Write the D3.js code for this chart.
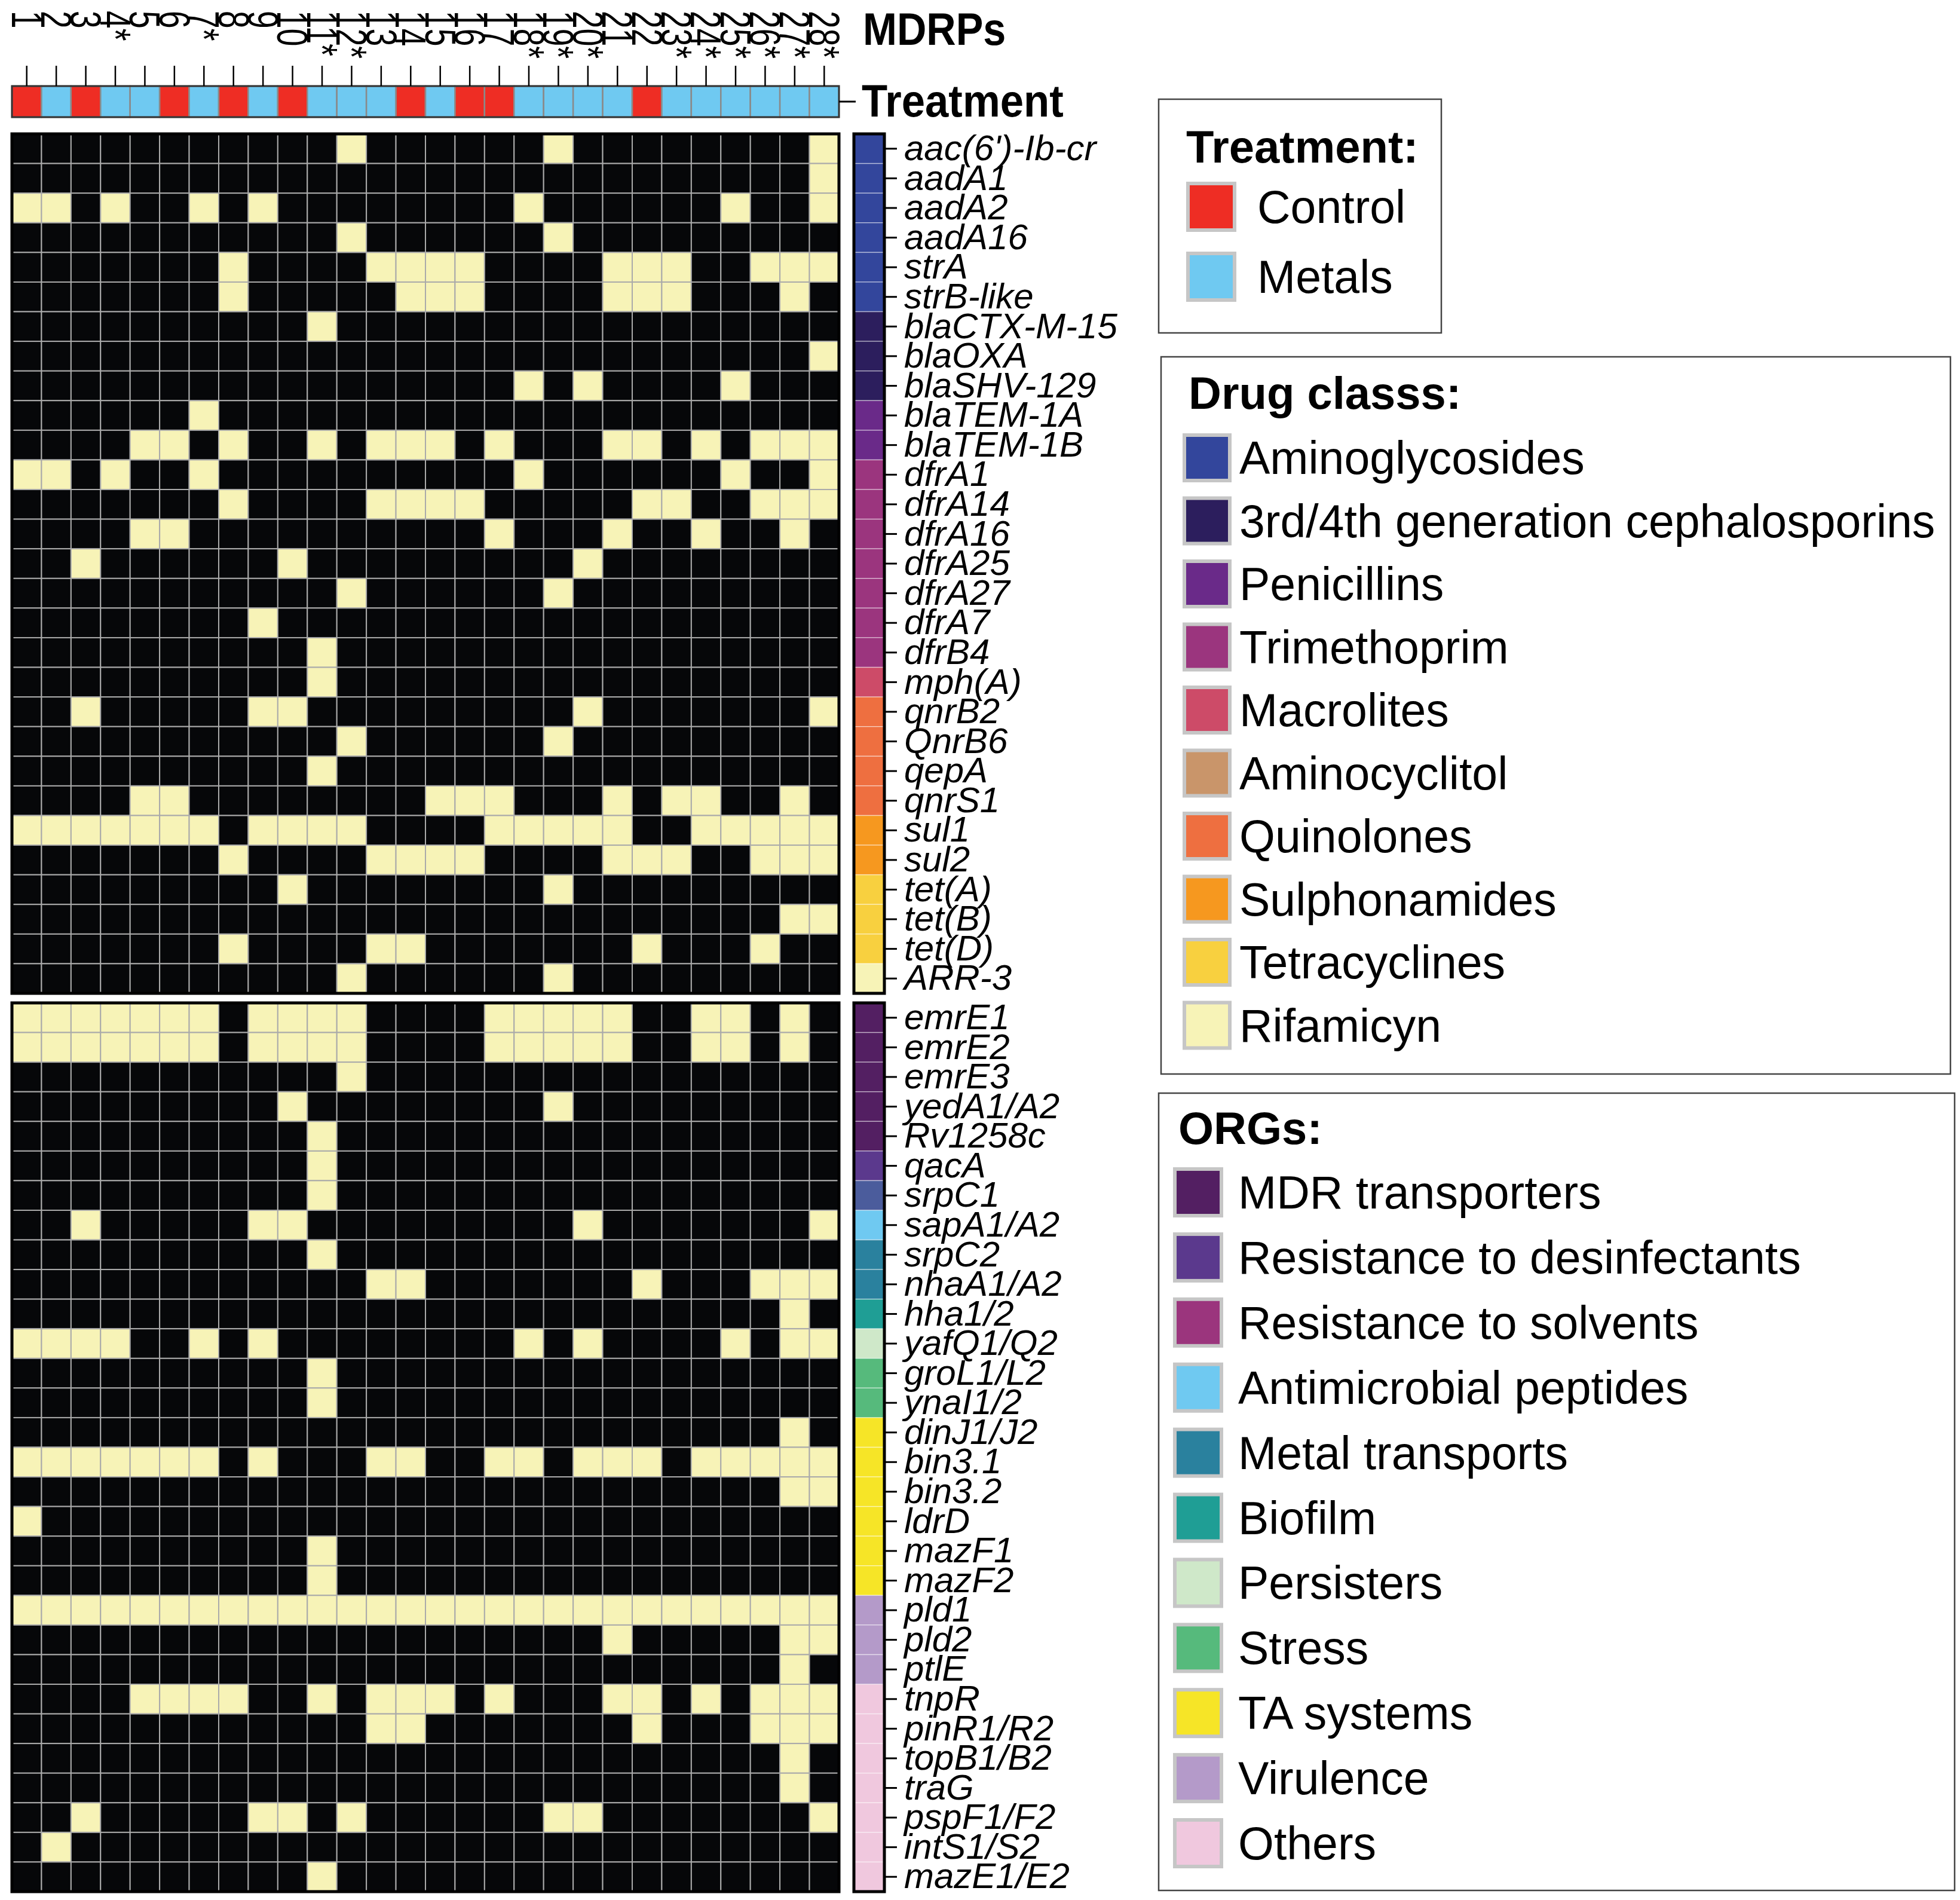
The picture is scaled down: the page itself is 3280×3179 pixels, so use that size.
<!DOCTYPE html>
<html>
<head>
<meta charset="utf-8">
<script src="https://cdn.jsdelivr.net/npm/d3@7"></script>
<style>
body{margin:0;background:#fff}
svg{display:block}
text{font-family:"Liberation Sans",Arial,sans-serif}
</style>
</head>
<body>
<div id="chart"></div>
<script>
// isolates (columns)
const mdrps = [1,2,3,4,5,6,7,8,9,10,11,12,13,14,15,16,17,18,19,20,21,22,23,24,25,26,27,28];
const treatment = ["Control","Metals","Control","Metals","Metals","Control","Metals","Control","Metals","Control",
  "Metals","Metals","Metals","Control","Metals","Control","Control","Metals","Metals","Metals",
  "Metals","Control","Metals","Metals","Metals","Metals","Metals","Metals"];
const marked = [4,7,11,12,18,19,20,23,24,25,26,27,28];

// antibiotic resistance genes
const argGenes = ["aac(6')-Ib-cr","aadA1","aadA2","aadA16","strA","strB-like","blaCTX-M-15","blaOXA","blaSHV-129",
  "blaTEM-1A","blaTEM-1B","dfrA1","dfrA14","dfrA16","dfrA25","dfrA27","dfrA7","dfrB4","mph(A)","qnrB2","QnrB6",
  "qepA","qnrS1","sul1","sul2","tet(A)","tet(B)","tet(D)","ARR-3"];
const argClass = ["Aminoglycosides","Aminoglycosides","Aminoglycosides","Aminoglycosides","Aminoglycosides","Aminoglycosides",
  "3rd/4th generation cephalosporins","3rd/4th generation cephalosporins","3rd/4th generation cephalosporins",
  "Penicillins","Penicillins","Trimethoprim","Trimethoprim","Trimethoprim","Trimethoprim","Trimethoprim","Trimethoprim","Trimethoprim",
  "Macrolites","Quinolones","Quinolones","Quinolones","Quinolones","Sulphonamides","Sulphonamides",
  "Tetracyclines","Tetracyclines","Tetracyclines","Rifamicyn"];
// MDRPs carrying each gene
const argHits = [
  [12,19,28],
  [28],
  [1,2,4,7,9,18,25,28],
  [12,19],
  [8,13,14,15,16,21,22,23,26,27,28],
  [8,14,15,16,21,22,23,27],
  [11],
  [28],
  [18,20,25],
  [7],
  [5,6,8,11,13,14,15,17,21,22,24,26,27,28],
  [1,2,4,7,18,25,28],
  [8,13,14,15,16,22,23,26,27,28],
  [5,6,17,21,24,27],
  [3,10,20],
  [12,19],
  [9],
  [11],
  [11],
  [3,9,10,20,28],
  [12,19],
  [11],
  [5,6,15,16,17,21,23,24,27],
  [1,2,3,4,5,6,7,9,10,11,12,17,18,19,20,21,24,25,26,27,28],
  [8,13,14,15,16,21,22,23,26,27,28],
  [10,19],
  [27,28],
  [8,13,14,22,26],
  [12,19]
];

// other resistance genes
const orgGenes = ["emrE1","emrE2","emrE3","yedA1/A2","Rv1258c","qacA","srpC1","sapA1/A2","srpC2","nhaA1/A2","hha1/2",
  "yafQ1/Q2","groL1/L2","ynaI1/2","dinJ1/J2","bin3.1","bin3.2","ldrD","mazF1","mazF2","pld1","pld2","ptlE",
  "tnpR","pinR1/R2","topB1/B2","traG","pspF1/F2","intS1/S2","mazE1/E2"];
const orgClass = ["MDR transporters","MDR transporters","MDR transporters","MDR transporters","MDR transporters",
  "Resistance to desinfectants","srpC1","Antimicrobial peptides","Metal transports","Metal transports","Biofilm",
  "Persisters","Stress","Stress","TA systems","TA systems","TA systems","TA systems","TA systems","TA systems",
  "Virulence","Virulence","Virulence","Others","Others","Others","Others","Others","Others","Others"];
const orgHits = [
  [1,2,3,4,5,6,7,9,10,11,12,17,18,19,20,21,24,25,27],
  [1,2,3,4,5,6,7,9,10,11,12,17,18,19,20,21,24,25,27],
  [12],
  [10,19],
  [11],
  [11],
  [11],
  [3,9,10,20,28],
  [11],
  [13,14,22,26,27,28],
  [27],
  [1,2,3,4,7,9,18,20,25,27,28],
  [11],
  [11],
  [27],
  [1,2,3,4,5,6,7,9,13,14,17,18,20,21,22,24,25,26,27,28],
  [27,28],
  [1],
  [11],
  [11],
  [1,2,3,4,5,6,7,8,9,10,11,12,13,14,15,16,17,18,19,20,21,22,23,24,25,26,27,28],
  [21,27,28],
  [27],
  [5,6,7,8,11,13,14,15,17,21,22,24,26,27,28],
  [13,14,22,26,27,28],
  [27],
  [27],
  [3,9,10,12,19,20,28],
  [2],
  [11]
];

// legends
const treatmentLevels = ["Control","Metals"];
const drugClasses = ["Aminoglycosides","3rd/4th generation cephalosporins","Penicillins","Trimethoprim","Macrolites",
  "Aminocyclitol","Quinolones","Sulphonamides","Tetracyclines","Rifamicyn"];
const orgClasses = ["MDR transporters","Resistance to desinfectants","Resistance to solvents","Antimicrobial peptides",
  "Metal transports","Biofilm","Persisters","Stress","TA systems","Virulence","Others"];

const width = 3280, height = 3179;
const absent = "#060709", present = "#f7f3b7";

const treatColor = d3.scaleOrdinal().domain(treatmentLevels).range(["#ee2d24","#6fc9f1"]);
const drugColor = d3.scaleOrdinal().domain(drugClasses)
  .range(["#33469c","#2c1e5d","#6a2a89","#9b357e","#cd4b68","#c9956a","#ee6f40","#f6981f","#f8d03f","#f7f3b7"]);
const orgColor = d3.scaleOrdinal().domain(orgClasses.concat(["srpC1"]))
  .range(["#531f62","#5b398d","#9b357d","#6fc9f1","#2a819e","#1f9e95","#cfe8c9","#56ba7c","#f6e527","#b49ac9","#f0c8de","#4b5c9c"]);

const svg = d3.select("#chart").append("svg")
  .attr("width", width)
  .attr("height", height);

const x = d3.scaleBand().domain(mdrps).range([20, 1404]);
const yArg = d3.scaleBand().domain(argGenes).range([224, 1662]);
const yOrg = d3.scaleBand().domain(orgGenes).range([1678, 3165]);

function drawPanel(genes, hits, classes, color, y){
  const cells = [];
  genes.forEach((g, i) => {
    mdrps.forEach(m => cells.push({gene: g, mdrp: m, on: hits[i].includes(m)}));
  });
  const g = svg.append("g");
  g.selectAll("rect")
    .data(cells)
    .enter()
    .append("rect")
    .attr("x", d => x(d.mdrp))
    .attr("y", d => y(d.gene))
    .attr("width", x.bandwidth())
    .attr("height", y.bandwidth())
    .attr("fill", d => d.on ? present : absent)
    .attr("stroke", "#aaaaaa")
    .attr("stroke-width", 2);
  g.append("rect")
    .attr("x", x.range()[0]).attr("y", y.range()[0])
    .attr("width", x.range()[1] - x.range()[0])
    .attr("height", y.range()[1] - y.range()[0])
    .attr("fill", "none").attr("stroke", "#000").attr("stroke-width", 5);

  // class colour bar
  const bar = svg.append("g");
  bar.selectAll("rect")
    .data(genes)
    .enter()
    .append("rect")
    .attr("x", 1429)
    .attr("y", d => y(d))
    .attr("width", 51)
    .attr("height", y.bandwidth())
    .attr("fill", (d, i) => color(classes[i]))
    .attr("stroke", "rgba(255,255,255,0.45)")
    .attr("stroke-width", 1.5);
  bar.append("rect")
    .attr("x", 1429).attr("y", y.range()[0])
    .attr("width", 51).attr("height", y.range()[1] - y.range()[0])
    .attr("fill", "none").attr("stroke", "#000").attr("stroke-width", 5);

  const axis = svg.append("g")
    .attr("transform", "translate(1481,0)")
    .call(d3.axisRight(y).tickSize(20).tickPadding(12));
  axis.select(".domain").remove();
  axis.selectAll(".tick line").attr("stroke", "#000").attr("stroke-width", 3);
  axis.selectAll(".tick text")
    .attr("font-family", "'Liberation Sans',Arial,sans-serif")
    .attr("font-size", 60)
    .attr("font-style", "italic")
    .attr("fill", "#000");
}

drawPanel(argGenes, argHits, argClass, drugColor, yArg);
drawPanel(orgGenes, orgHits, orgClass, orgColor, yOrg);

// treatment annotation row
svg.append("g").selectAll("rect")
  .data(mdrps)
  .enter()
  .append("rect")
  .attr("x", d => x(d))
  .attr("y", 144)
  .attr("width", x.bandwidth())
  .attr("height", 52)
  .attr("fill", (d, i) => treatColor(treatment[i]))
  .attr("stroke", "#8a8a8a")
  .attr("stroke-width", 2.5);
svg.append("rect")
  .attr("x", 20).attr("y", 144).attr("width", 1384).attr("height", 52)
  .attr("fill", "none").attr("stroke", "#333").attr("stroke-width", 3);

// column labels
const colAxis = svg.append("g")
  .attr("transform", "translate(0,144)")
  .call(d3.axisTop(x).tickSize(34).tickFormat(d => d + (marked.includes(d) ? "*" : "")));
colAxis.select(".domain").remove();
colAxis.selectAll(".tick line").attr("stroke", "#000").attr("stroke-width", 2.5);
colAxis.selectAll(".tick text")
  .attr("x", 0).attr("y", 0).attr("dy", "0.35em")
  .attr("text-anchor", "start")
  .attr("transform", "translate(0,-126) rotate(90) scale(0.74,1)")
  .attr("font-family", "'Liberation Sans',Arial,sans-serif")
  .attr("font-size", 72)
  .attr("fill", "#000");

svg.append("line")
  .attr("x1", 1404).attr("x2", 1432).attr("y1", 170).attr("y2", 170)
  .attr("stroke", "#000").attr("stroke-width", 3);
svg.append("text")
  .attr("transform", "translate(1442,195) scale(0.93,1)")
  .attr("font-size", 76).attr("font-weight", "bold")
  .text("Treatment");
svg.append("text")
  .attr("transform", "translate(1444,75) scale(0.9,1)")
  .attr("font-size", 76).attr("font-weight", "bold")
  .text("MDRPs");

// legends
function drawLegend(box, title, items, color, firstY, step, swX, swSize, labelX){
  const g = svg.append("g");
  g.append("rect")
    .attr("x", box[0]).attr("y", box[1]).attr("width", box[2]).attr("height", box[3])
    .attr("fill", "none").attr("stroke", "#444").attr("stroke-width", 2.5);
  g.append("text")
    .attr("x", title[1]).attr("y", title[2])
    .attr("font-size", 76).attr("font-weight", "bold")
    .text(title[0]);
  const item = g.selectAll(".item")
    .data(items)
    .enter()
    .append("g")
    .attr("class", "item")
    .attr("transform", (d, i) => "translate(0," + (firstY + i * step) + ")");
  item.append("rect")
    .attr("x", swX).attr("y", -swSize / 2)
    .attr("width", swSize).attr("height", swSize)
    .attr("fill", d => color(d))
    .attr("stroke", "#c6c6c6").attr("stroke-width", 6);
  item.append("text")
    .attr("x", labelX).attr("y", 27)
    .attr("font-size", 77)
    .text(d => d);
}

drawLegend([1939,166,473,391], ["Treatment:",1985,272], treatmentLevels, treatColor, 346, 117, 1988, 78, 2104);
drawLegend([1943,597,1321,1200], ["Drug classs:",1989,684], drugClasses, drugColor, 766, 105.5, 1982, 76, 2074);
drawLegend([1939,1829,1332,1334], ["ORGs:",1972,1914], orgClasses, orgColor, 1995, 108.9, 1966, 78, 2072);
</script>
</body>
</html>
